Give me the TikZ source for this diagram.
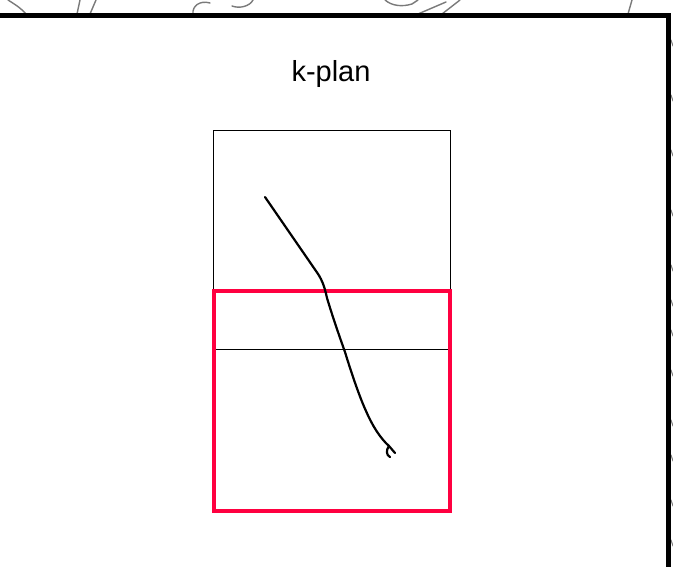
\documentclass[tikz,border=0pt]{standalone}
\usepackage{fontspec}
\setmainfont{Liberation Sans}
\usetikzlibrary{positioning}
\definecolor{markred}{HTML}{FF0040}
\definecolor{doodlegray}{HTML}{7A7A7A}
\tikzset{
  frame style/.style={line width=5pt},
  plan style/.style={draw, line width=0.9pt},
  red style/.style={draw=markred, line width=4pt},
  path style/.style={line width=2.2pt, line cap=round, line join=round},
  doodle style/.style={doodlegray, line width=1.4pt, line cap=round}
}

\begin{document}
\begin{tikzpicture}[x=1pt, y=-1pt]
\useasboundingbox (0,0) rectangle (673,566);
\fill[white] (0,0) rectangle (673,566);
% background sketch, cut off by the frame
\draw[doodle style] (8,0) .. controls (16,5) and (22,9) .. (26,14);
\draw[doodle style] (80,0) -- (77,14);
\draw[doodle style] (96,0) -- (90,14);
\draw[doodle style] (210,3) .. controls (200,0) and (192,6) .. (193,14);
\draw[doodle style] (232,6) .. controls (240,9) and (250,6) .. (253,0);
\draw[doodle style] (385,0) .. controls (392,6) and (402,7) .. (412,4) -- (418,0);
\draw[doodle style] (418,14) -- (446,2);
\draw[doodle style] (442,14) -- (460,0);
\draw[doodle style] (632,0) -- (628,14);
\foreach \yy in {40,95,150,210,265,300,330,370,420,455,500,540}
  \draw[doodle style, line width=1pt] (671,\yy) -- (673,\yy+6);
% frame
\draw[frame style] (-5,15.5) -- (668,15.5) -- (668,575);
% title
\node[font=\fontsize{29}{34}\selectfont] (title) at (331,74) {k-plan};
% plan boxes
\draw[plan style] (213.5,130) rectangle (450,349);
\coordinate (cutl) at (213.5,349);
\coordinate (cutr) at (450,349);
\draw[plan style] (cutl) -- (cutr);
\draw[red style] (214,291) rectangle (450,510.5);
% hand-drawn path
\draw[path style] (265,197) -- (316,271)
  .. controls (321,278) and (324,284) .. (327,298)
  .. controls (333,318) and (340,338) .. (345,352)
  .. controls (352,375) and (360,398) .. (366,411)
  .. controls (372,425) and (380,438) .. (389,446);
\draw[path style] (389,446) -- (395,453);
\draw[path style] (389,446) .. controls (386,450) and (386,455) .. (390,457);
\end{tikzpicture}
\end{document}
